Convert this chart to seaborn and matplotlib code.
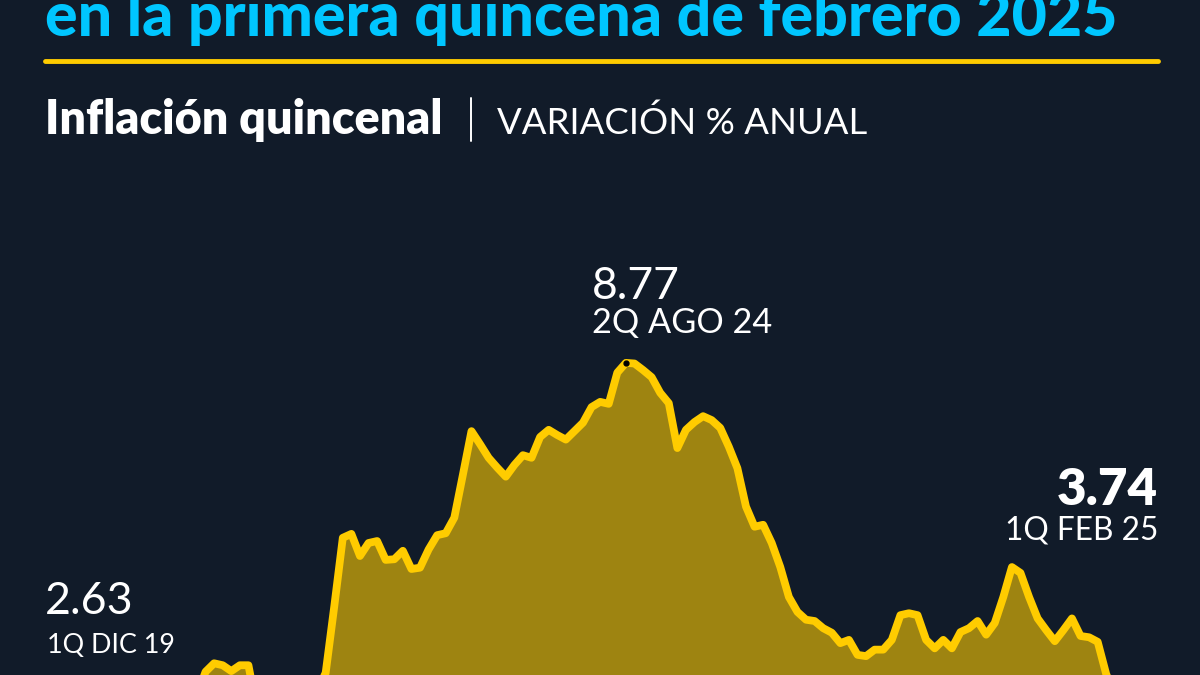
import numpy as np
import pandas as pd
import matplotlib
matplotlib.use("Agg")
import matplotlib.pyplot as plt
import seaborn as sns

# Inflación quincenal, variación % anual: 1Q dic 2019 -> 1Q feb 2025 (125 quincenas)
inflacion = [
    2.63, 2.98, 3.18, 3.29, 3.52, 3.86, 3.71, 2.86, 2.08, 2.20, 2.83, 2.85, 3.17, 3.50, 3.59, 3.66,
    4.02, 4.15, 4.12, 4.03, 4.12, 4.12, 3.43, 3.20, 3.22, 3.15, 3.33, 3.66, 3.84, 3.74, 4.00, 5.02,
    6.08, 6.14, 5.80, 6.00, 6.03, 5.74, 5.75, 5.88, 5.60, 5.62,
    5.90, 6.12, 6.15, 6.39, 7.05, 7.72, 7.52, 7.31, 7.16, 7.02,
    7.20, 7.35, 7.31, 7.63, 7.74, 7.66, 7.59, 7.72, 7.85, 8.09,
    8.17, 8.14, 8.62, 8.77,
    8.76, 8.66, 8.55, 8.31, 8.15, 7.46, 7.74, 7.86, 7.95, 7.89,
    7.77, 7.48, 7.15, 6.56, 6.25, 6.28, 6.00, 5.63, 5.17, 4.94,
    4.82, 4.80, 4.69, 4.62, 4.46, 4.51, 4.28, 4.26, 4.36, 4.36,
    4.51, 4.89, 4.92, 4.89, 4.51, 4.38, 4.51, 4.38, 4.63, 4.69,
    4.80, 4.59, 4.77, 5.17, 5.63, 5.54, 5.17, 4.84, 4.66, 4.49,
    4.66, 4.84, 4.57, 4.55, 4.48, 3.98, 3.69, 3.48, 3.74,
]
meses = ["ENE", "FEB", "MAR", "ABR", "MAY", "JUN", "JUL", "AGO", "SEP", "OCT", "NOV", "DIC"]

# etiquetas: inicio, maximo, ultimo dato
etiquetas_valor = ["2.63", "8.77", "3.74"]
etiquetas_fecha = ["1Q DIC 19", "2Q AGO 24", "1Q FEB 25"]

titulo = "en la primera quincena de febrero 2025"
subtitulo = "Inflación quincenal"
unidad = "VARIACIÓN % ANUAL"

FONDO = "#111b29"
AMARILLO = "#ffcc00"
RELLENO = "#9e8411"
CIAN = "#00c6ff"

# quincenas desde 1Q dic 2019
quincenas = []
for k in range(len(inflacion)):
    m = (11 + k // 2) % 12
    anio = 19 + (11 + k // 2) // 12
    quincenas.append(f"{k % 2 + 1}Q {meses[m]} {anio}")
df = pd.DataFrame({"quincena": quincenas, "pos": range(len(inflacion)), "inflacion": inflacion})

sns.set_theme(style="white")
plt.rcParams["font.family"] = ["Lato", "DejaVu Sans"]

W, H = 1200, 675
fig = plt.figure(figsize=(12, 6.75), dpi=100, facecolor=FONDO)

# area del grafico: x en pixeles 68 -> 1132, y cortada por abajo
ax = fig.add_axes([68.3 / W, 0, (1132 - 68.3) / W, 1])
ax.set_facecolor("none")
ax.set_xlim(0, len(inflacion) - 1)
ax.set_ylim(3.97, 14.35)
ax.fill_between(df["pos"], df["inflacion"], 0, color=RELLENO, linewidth=0)
sns.lineplot(data=df, x="pos", y="inflacion", ax=ax, color=AMARILLO, linewidth=5.6,
             solid_joinstyle="round", solid_capstyle="round")
imax = int(np.argmax(inflacion))
ax.plot(imax, inflacion[imax], "o", color="black", markersize=3.5)
ax.axis("off")

renderer = fig.canvas.get_renderer()


def texto(x, y, s, ancho=None, size=20, **kw):
    t = fig.text(x / W, 1 - y / H, s, va="baseline", fontsize=size, **kw)
    if ancho:
        w = t.get_window_extent(renderer).width
        t.set_fontsize(size * ancho / w)
    return t


# titulo (primera linea fuera del recorte, como en el original)
texto(45, 36, titulo, ancho=1073, color=CIAN, fontweight="black")
fig.add_artist(plt.Line2D([45 / W, 1158 / W], [1 - 61 / H, 1 - 61 / H], color=AMARILLO, linewidth=3.5))

texto(45, 134, subtitulo, ancho=398, color="white", fontweight="heavy")
fig.add_artist(plt.Line2D([471 / W, 471 / W], [1 - 98 / H, 1 - 141 / H], color="white", linewidth=1.4))
texto(497, 134, unidad, ancho=369, color="white", fontweight="normal")

# anotaciones
texto(45, 614, etiquetas_valor[0], ancho=88, color="white", fontweight="normal")
texto(47, 653, etiquetas_fecha[0], ancho=128, color="white", fontweight="normal")
texto(592, 299, etiquetas_valor[1], ancho=88, color="white", fontweight="normal")
texto(592, 333, etiquetas_fecha[1], ancho=180, color="white", fontweight="normal")
texto(1158, 505, etiquetas_valor[2], ancho=101, color="white", fontweight="heavy", ha="right")
texto(1158, 540, etiquetas_fecha[2], ancho=153, color="white", fontweight="normal", ha="right")

fig.savefig("out.png", dpi=100, facecolor=FONDO)
